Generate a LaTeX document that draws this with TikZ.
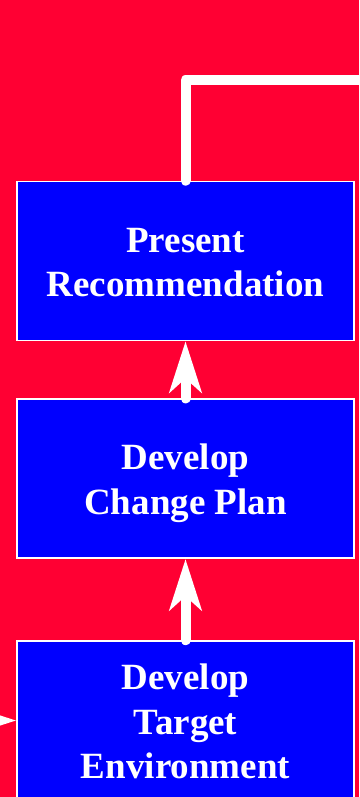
\documentclass[tikz,border=0pt]{standalone}
\usepackage{fontspec}
\setmainfont{Liberation Serif}
\usetikzlibrary{arrows.meta}
\definecolor{bgred}{RGB}{255,0,51}
\definecolor{boxblue}{RGB}{0,0,255}
\newcommand\mystrut{\rule[-8pt]{0pt}{43pt}}
\begin{document}
\begin{tikzpicture}[x=1pt,y=-1pt,
  stagebox/.style={draw=white, line width=1.6pt, fill=boxblue,
    minimum width=337pt, minimum height=159pt, inner sep=0pt,
    text=white, align=center,
    font=\fontsize{37}{44.5}\selectfont\bfseries},
  flow/.style={draw=white, line width=10pt, line cap=round, line join=round},
  flowarrow/.style={flow, -{Stealth[length=51pt,width=32pt,inset=14pt]}}]
\useasboundingbox (0,0) rectangle (359,797);
\fill[bgred] (0,0) rectangle (359,797);
\clip (0,0) rectangle (359,797);

\node[stagebox] (p1) at (185.5,261) {\mystrut Present\\\mystrut Recommendation};
\node[stagebox] (p2) at (185.5,478.75) {\mystrut Develop\\\mystrut Change Plan};
\node[stagebox] (p3) at (185.5,720.5) {\mystrut Develop\\\mystrut Target\\\mystrut Environment};

\coordinate (topright) at (390,80);
\coordinate (leftin) at (-60,720.5);

\draw[flow] (p1.north) |- (topright);
\draw[flowarrow] (p2.north) -- (p1.south);
\draw[flowarrow] (p3.north) -- (p2.south);
\draw[flowarrow] (leftin) -- (p3.west);
\end{tikzpicture}
\end{document}
